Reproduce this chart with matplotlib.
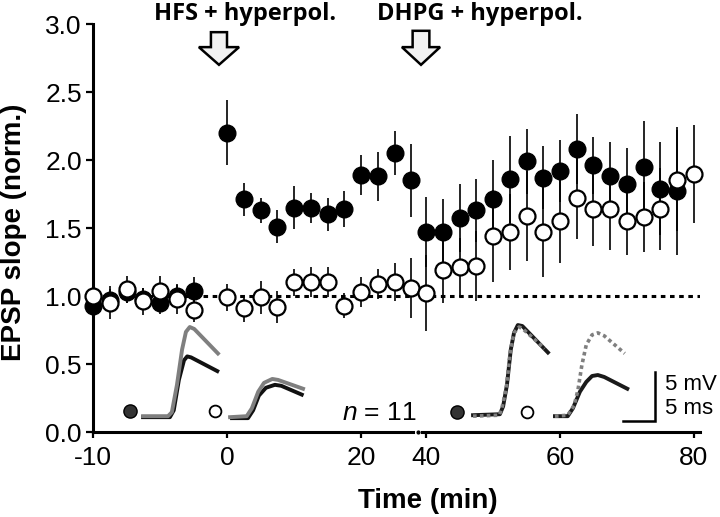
import numpy as np
import matplotlib
matplotlib.use("Agg")
import matplotlib.pyplot as plt

plt.rcParams["font.family"] = ["Liberation Sans", "DejaVu Sans"]
plt.rcParams["mathtext.fontset"] = "custom"
plt.rcParams["mathtext.it"] = "Liberation Sans:italic"
plt.rcParams["mathtext.rm"] = "Liberation Sans"

# ---- time course data (normalised EPSP slope) ----
# left part of the broken axis
T_LEFT = [-20, -17.5, -15, -12.5, -10, -7.5, -5,
          0, 2.5, 5, 7.5, 10, 12.5, 15, 17.5, 20, 22.5, 25, 27.5]
FILLED_LEFT = [0.93, 0.97, 1.03, 0.98, 0.95, 1.00, 1.04,
               2.20, 1.71, 1.63, 1.51, 1.65, 1.65, 1.60, 1.64, 1.89, 1.88, 2.05, 1.85]
FILLED_LEFT_ERR = [0.07, 0.08, 0.08, 0.08, 0.08, 0.08, 0.10,
                   0.24, 0.12, 0.09, 0.12, 0.16, 0.11, 0.12, 0.13, 0.15, 0.18, 0.16, 0.27]
OPEN_LEFT = [1.00, 0.95, 1.05, 0.96, 1.04, 0.98, 0.90,
             0.99, 0.91, 0.99, 0.92, 1.10, 1.10, 1.10, 0.93, 1.03, 1.09, 1.10, 1.06]
OPEN_LEFT_ERR = [0.08, 0.12, 0.10, 0.10, 0.11, 0.11, 0.09,
                 0.10, 0.10, 0.12, 0.12, 0.10, 0.11, 0.11, 0.09, 0.11, 0.11, 0.14, 0.22]

# right part of the broken axis
T_RIGHT = [40, 42.5, 45, 47.5, 50, 52.5, 55, 57.5, 60,
           62.5, 65, 67.5, 70, 72.5, 75, 77.5, 80]
FILLED_RIGHT = [1.47, 1.47, 1.57, 1.63, 1.71, 1.86, 1.99, 1.87, 1.92,
                2.08, 1.96, 1.88, 1.82, 1.95, 1.79, 1.77]
FILLED_RIGHT_ERR = [0.26, 0.24, 0.25, 0.23, 0.29, 0.32, 0.24, 0.23, 0.23,
                    0.26, 0.21, 0.25, 0.27, 0.34, 0.34, 0.47]
OPEN_RIGHT = [1.02, 1.19, 1.21, 1.22, 1.44, 1.47, 1.59, 1.47, 1.55,
              1.72, 1.64, 1.64, 1.55, 1.58, 1.64, 1.85, 1.90]
OPEN_RIGHT_ERR = [0.28, 0.24, 0.22, 0.26, 0.34, 0.28, 0.33, 0.33, 0.31,
                  0.30, 0.27, 0.30, 0.25, 0.26, 0.30, 0.37, 0.36]

XTICKS_LEFT = [-20, 0, 20]
XTICKLABELS_LEFT = ["-10", "0", "20"]
XTICKS_RIGHT = [40, 60, 80]
XTICKLABELS_RIGHT = ["40", "60", "80"]
YTICKS = [0.0, 0.5, 1.0, 1.5, 2.0, 2.5, 3.0]

# ---- example EPSP traces (ms, mV) ----
HFS_T1_GRAY = ([3.6, 7.5, 8.1, 8.9, 9.7, 10.3, 10.9, 11.6, 15.3],
               [0.9, 0.9, 1.3, 4.1, 7.7, 9.5, 10.0, 9.8, 7.3])
HFS_T1_BLACK = ([3.6, 7.8, 8.4, 9.2, 10.0, 10.5, 11.1, 15.2],
                [0.8, 0.8, 1.5, 4.6, 6.6, 7.0, 6.9, 5.5])
HFS_T2_GRAY = ([17.2, 19.8, 20.6, 21.6, 22.5, 23.8, 24.7, 28.6],
               [0.8, 0.9, 1.7, 3.4, 4.3, 4.7, 4.6, 3.7])
HFS_T2_BLACK = ([17.5, 20.0, 20.8, 21.7, 22.8, 24.2, 25.2, 28.4],
                [0.7, 0.7, 1.5, 3.0, 3.8, 4.1, 4.0, 3.1])
DHPG_T1_BLACK = ([3.6, 7.8, 8.3, 8.9, 9.5, 10.0, 10.6, 11.3, 15.3],
                 [1.0, 1.1, 1.9, 4.1, 7.7, 9.4, 10.2, 10.1, 7.4])
DHPG_T1_DOT = ([3.6, 7.7, 8.1, 8.8, 9.4, 10.0, 10.8, 11.4, 14.8],
               [0.9, 1.0, 1.7, 3.8, 7.4, 9.4, 10.0, 9.8, 7.8])
DHPG_T2_BLACK = ([16.4, 18.4, 19.2, 20.3, 21.3, 22.2, 23.1, 24.1, 27.7],
                 [0.9, 0.9, 1.7, 3.4, 4.4, 5.0, 5.1, 4.9, 3.7])
DHPG_T2_DOT = ([16.4, 18.4, 19.4, 20.0, 20.6, 21.3, 22.2, 23.1, 24.1, 27.3],
               [0.9, 1.0, 2.0, 3.6, 6.1, 8.2, 9.2, 9.4, 9.1, 7.3])

W, H = 720, 517
fig = plt.figure(figsize=(W / 100, H / 100), dpi=100)


def px_box(x0, x1, y_top, y_bot):
    return [x0 / W, 1 - y_bot / H, (x1 - x0) / W, (y_bot - y_top) / H]


ax1 = fig.add_axes(px_box(93, 413, 24, 432))
ax2 = fig.add_axes(px_box(422, 700, 24, 432))
ax1.set_xlim(-20, 27.76)
ax2.set_xlim(39.4, 80.9)

for ax, t, fy, fe, oy, oe in [
    (ax1, T_LEFT, FILLED_LEFT, FILLED_LEFT_ERR, OPEN_LEFT, OPEN_LEFT_ERR),
    (ax2, T_RIGHT, FILLED_RIGHT, FILLED_RIGHT_ERR, OPEN_RIGHT, OPEN_RIGHT_ERR),
]:
    ax.set_ylim(0, 3.0)
    ax.axhline(1.0, color="black", lw=2.2, ls=(0, (1.5, 1.5)),
               dash_capstyle="butt", zorder=1)
    ax.errorbar(t[:len(fy)], fy, yerr=fe, fmt="none", ecolor="black",
                elinewidth=1.2, capsize=0, zorder=2, clip_on=False)
    ax.errorbar(t, oy, yerr=oe, fmt="none", ecolor="black",
                elinewidth=1.2, capsize=0, zorder=2, clip_on=False)
    ax.plot(t[:len(fy)], fy, "o", ms=12, mfc="black", mec="black",
            ls="none", zorder=3, clip_on=False)
    ax.plot(t, oy, "o", ms=11.5, mfc="white", mec="black", mew=1.6,
            ls="none", zorder=4, clip_on=False)
    for s in ["top", "right"]:
        ax.spines[s].set_visible(False)
    ax.spines["bottom"].set_linewidth(2.2)
    ax.tick_params(axis="x", direction="out", length=4, width=1.6,
                   labelsize=19, pad=6)

ax1.spines["left"].set_linewidth(2.2)
ax1.set_yticks(YTICKS)
ax1.set_yticklabels([f"{v:.1f}" for v in YTICKS])
ax1.tick_params(axis="y", direction="out", length=5, width=1.6,
                labelsize=19, pad=3)
ax1.set_xticks(XTICKS_LEFT)
ax1.set_xticklabels(XTICKLABELS_LEFT)
ax2.set_xticks(XTICKS_RIGHT)
ax2.set_xticklabels(XTICKLABELS_RIGHT)
ax2.spines["left"].set_visible(False)
ax2.set_yticks([])
ax2.patch.set_alpha(0)
# tiny mark in the axis break
ax2.plot([38.8], [0], "o", ms=2, color="black", clip_on=False)

# stimulation arrows
ax1.arrow(-1.2, 2.94, 0, -0.24, width=2.4, head_width=6.0, head_length=0.13,
          length_includes_head=True, fc="#f2f2f2", ec="black", lw=1.8,
          joinstyle="miter", clip_on=False, zorder=5)
ax2.arrow(39.25, 2.95, 0, -0.25, width=2.5, head_width=5.7, head_length=0.13,
          length_includes_head=True, fc="#f2f2f2", ec="black", lw=1.8,
          joinstyle="miter", clip_on=False, zorder=5)

fig.text(245 / W, 1 - 20 / H, "HFS + hyperpol.", ha="center", va="baseline",
         fontsize=17, fontweight="bold", family=["Open Sans", "DejaVu Sans"])
fig.text(480 / W, 1 - 20 / H, "DHPG + hyperpol.", ha="center", va="baseline",
         fontsize=17, fontweight="bold", family=["Open Sans", "DejaVu Sans"])

fig.text(14 / W, 1 - 232 / H, "EPSP slope (norm.)", rotation=90,
         ha="center", va="center", fontsize=20, fontweight="bold")
fig.text(428 / W, 1 - 508 / H, "Time (min)", ha="center", va="baseline",
         fontsize=20, fontweight="bold")
fig.text(342 / W, 1 - 420 / H, r"$\it{n}$ = 11", ha="left", va="baseline",
         fontsize=19)

# ---- inset traces ----
MS_PX, MV_PX = 6.4, 9.8
ins1 = fig.add_axes(px_box(120, 320, 320, 425))
ins2 = fig.add_axes(px_box(450, 720, 320, 425))
ins1.set_xlim(0, 200 / MS_PX)
ins2.set_xlim(0, 270 / MS_PX)
for ins in (ins1, ins2):
    ins.set_ylim(0, 105 / MV_PX)
    ins.axis("off")

GRAY = "#7f7f7f"
for tx, ty in (HFS_T1_BLACK, HFS_T2_BLACK):
    ins1.plot(tx, ty, color="#111111", lw=2.8, solid_joinstyle="round",
              clip_on=False)
for tx, ty in (HFS_T1_GRAY, HFS_T2_GRAY):
    ins1.plot(tx, ty, color=GRAY, lw=2.8, solid_joinstyle="round",
              clip_on=False)
ins1.plot([1.6], [1.4], "o", ms=9.5, mfc="#333333", mec="black", mew=1,
          clip_on=False)
ins1.plot([14.8], [1.4], "o", ms=8.5, mfc="white", mec="black", mew=1.3,
          clip_on=False)

for tx, ty in (DHPG_T1_BLACK, DHPG_T2_BLACK):
    ins2.plot(tx, ty, color="#1a1a1a", lw=2.8, solid_joinstyle="round",
              clip_on=False)
for tx, ty in (DHPG_T1_DOT, DHPG_T2_DOT):
    ins2.plot(tx, ty, color=GRAY, lw=2.6, ls=(0, (1.0, 0.9)),
              dash_capstyle="butt", clip_on=False)
ins2.plot([1.1], [1.3], "o", ms=9.5, mfc="#333333", mec="black", mew=1,
          clip_on=False)
ins2.plot([12.0], [1.3], "o", ms=8.5, mfc="white", mec="black", mew=1.3,
          clip_on=False)

# scale bar 5 mV / 5 ms
ins2.plot([27.0, 32.0, 32.0], [0.4, 0.4, 5.4], color="black", lw=1.8,
          solid_joinstyle="miter", clip_on=False)
ins2.text(33.6, 4.1, "5 mV", fontsize=16, va="center", ha="left")
ins2.text(33.6, 1.7, "5 ms", fontsize=16, va="center", ha="left")

fig.savefig("out.png", dpi=100)
